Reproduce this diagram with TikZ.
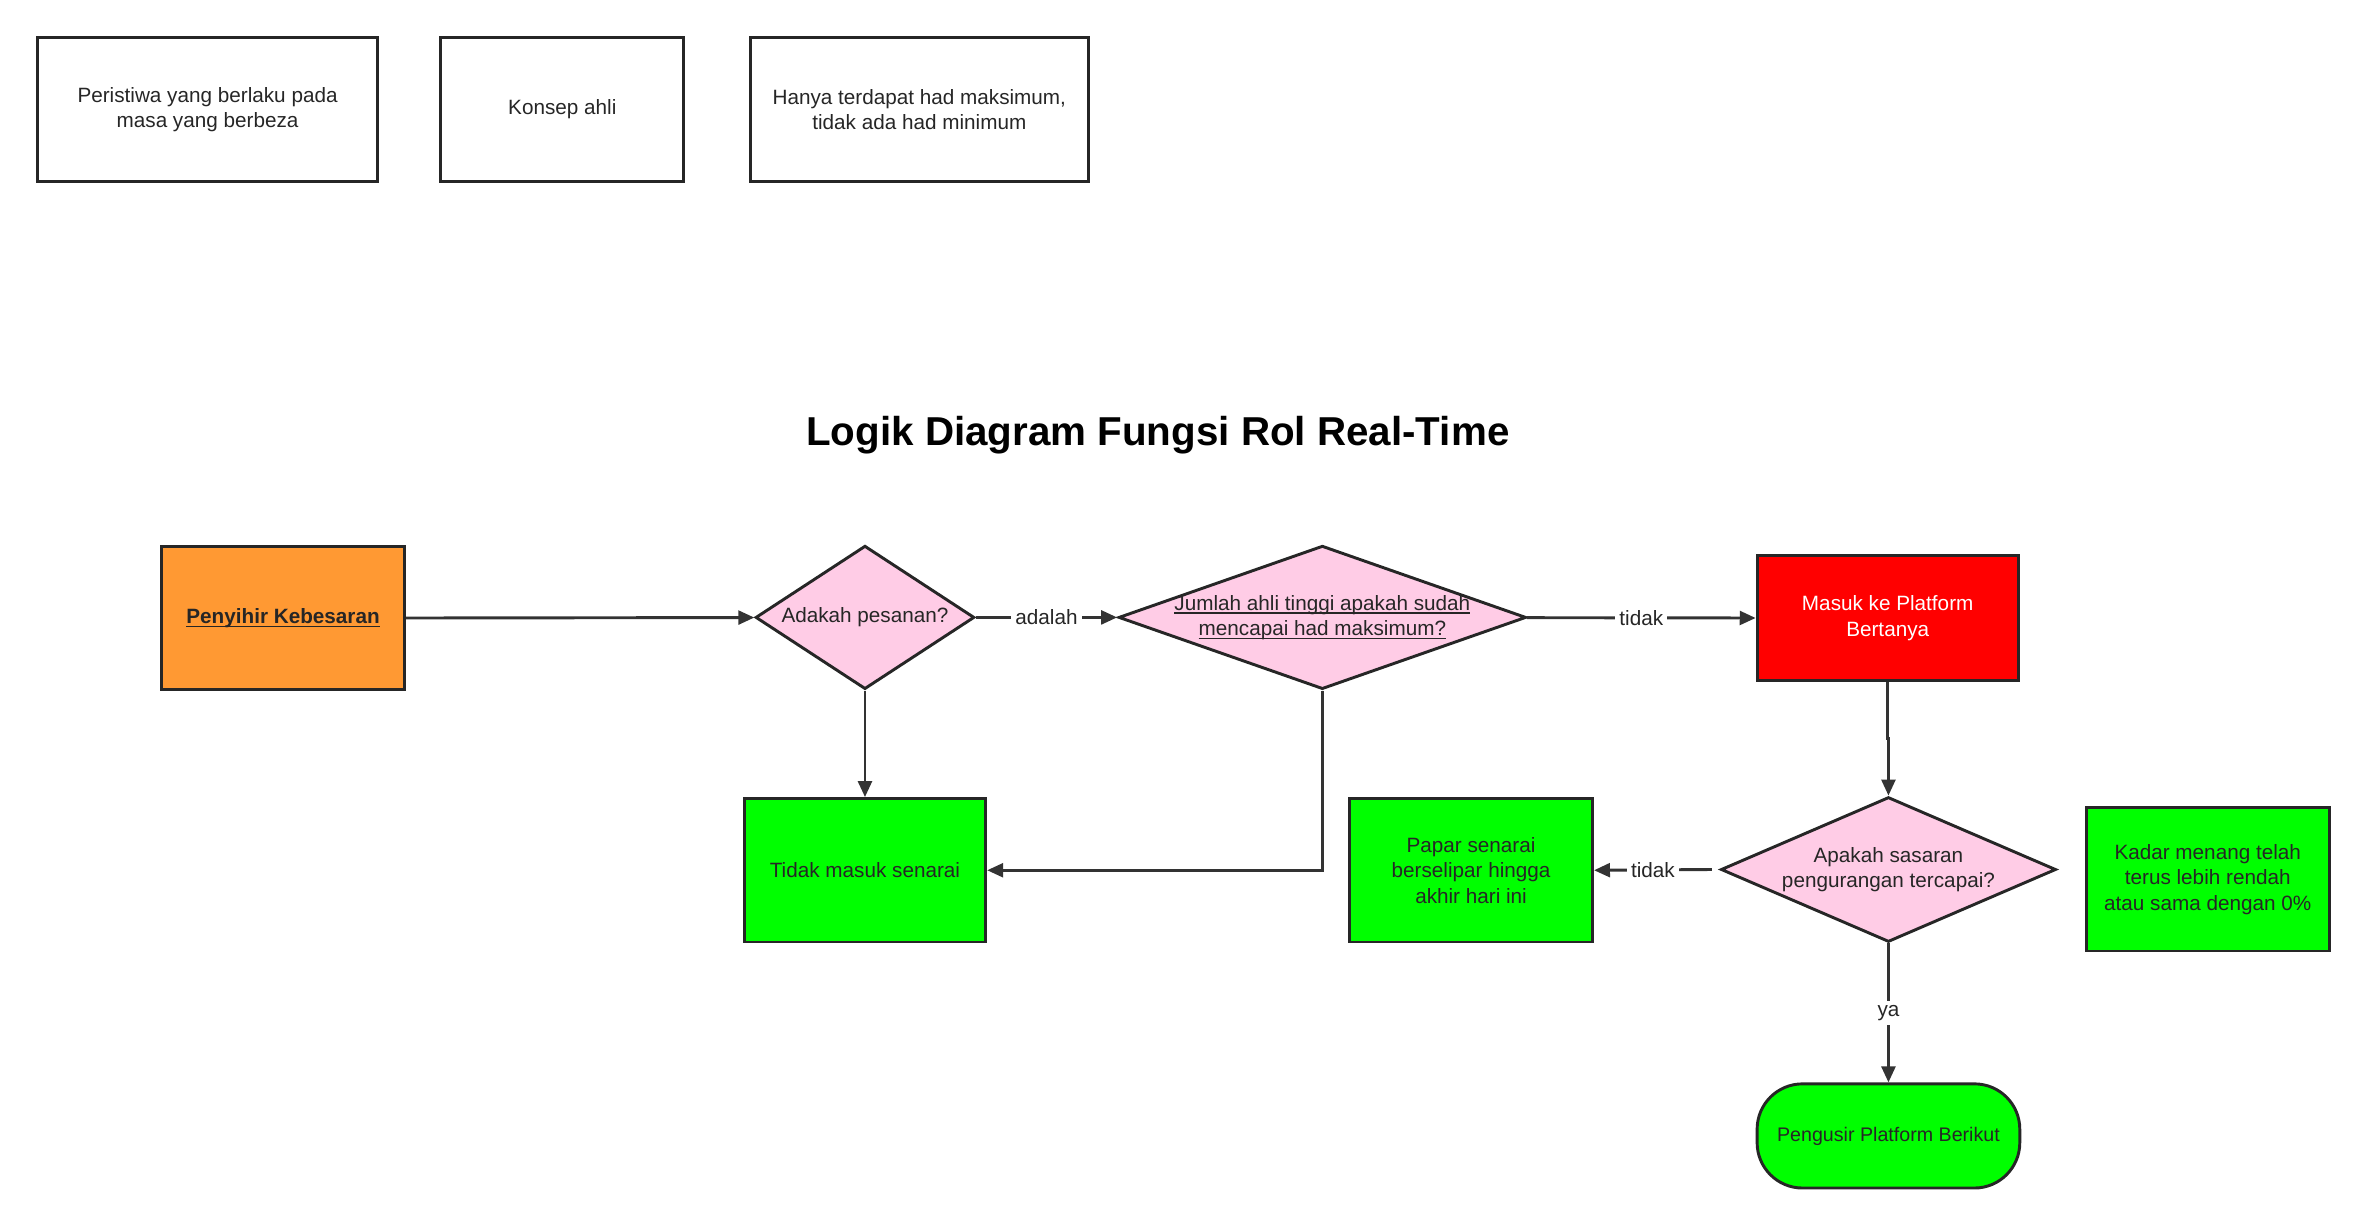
\documentclass[tikz,border=0pt]{standalone}
\usepackage{fontspec}
\setmainfont{Liberation Sans}
\usetikzlibrary{arrows.meta,positioning,shapes.geometric,calc}
\definecolor{pinkFill}{HTML}{FFCCE6}
\definecolor{orangeFill}{HTML}{FF9933}
\definecolor{lineGray}{HTML}{333333}
\newcommand\ulText[1]{\setbox0\hbox{#1}\rlap{\rule[-0.7pt]{\wd0}{0.25pt}}\box0}
\begin{document}
\begin{tikzpicture}[x=0.01cm,y=-0.01cm,
				line width=0.55pt,
				every node/.style={font=\fontsize{3.9}{4.8}\selectfont, align=center, text=black!85},
				sz/.style 2 args={minimum width=#1*0.01cm, minimum height=#2*0.01cm},
				note/.style={draw=black!85,rectangle,inner sep=0pt},
				process/.style={draw=black!85,rectangle,inner sep=0pt},
				choice/.style={draw=black!85,diamond,aspect=1.5,fill=pinkFill,inner sep=0pt},
				flow/.style={draw=lineGray,-{Triangle[length=3pt,width=2.6pt]}},
				lbl/.style={fill=white,inner sep=0.8pt}]
			\useasboundingbox (0,0) rectangle (1568,812);
			% notes at the top
			\node [note, sz={225}{95}] (n1) at (137.5,72.5) {Peristiwa yang berlaku pada\\masa yang berbeza};
			\node [note, sz={161}{95}] (n2) at (372.5,72.5) {Konsep ahli};
			\node [note, sz={224}{95}] (n3) at (609,72.5) {Hanya terdapat had maksimum,\\tidak ada had minimum};
			\node [font=\fontsize{7.6}{9}\selectfont\bfseries, text=black] (title) at (767,288) {Logik Diagram Fungsi Rol Real-Time};
			% flow
			\node [process, fill=orangeFill, sz={161}{95}, font=\fontsize{3.9}{4.8}\selectfont\bfseries] (start) at (187.5,409.5) {\ulText{Penyihir Kebesaran}};
			\node [choice, sz={145}{95}] (order) at (573,409) {Adakah pesanan?};
			\node [choice, aspect=2.84, sz={270}{95}] (limit) at (876,409) {};
			\node (limitText) at (limit) {\ulText{Jumlah ahli tinggi apakah sudah}\\\ulText{mencapai had maksimum?}};
			\node [process, fill=red, sz={173}{83}, text=white] (enter) at (1250.5,409.5) {Masuk ke Platform\\Bertanya};
			\node [process, fill=green, sz={160}{95}] (notlisted) at (573,576.5) {Tidak masuk senarai};
			\node [process, fill=green, sz={161}{95}] (show) at (974.5,576.5) {Papar senarai\\berselipar hingga\\akhir hari ini};
			\node [choice, aspect=2.31, sz={222}{96}] (target) at (1251,576) {};
			\node (targetText) at (target) {Apakah sasaran\\pengurangan tercapai?};
			\node [process, fill=green, sz={161}{95}] (rate) at (1462.5,582.5) {Kadar menang telah\\terus lebih rendah\\atau sama dengan 0\%};
			\node [draw=black!85, fill=green, rounded corners=0.3cm, sz={174}{69}, inner sep=0pt, font=\fontsize{3.7}{4.6}\selectfont] (next) at (1251,752.5) {Pengusir Platform Berikut};
			% connectors
			\draw [flow] (start) -- (order);
			\draw [flow] (order) -- node [lbl] {adalah} (limit);
			\draw [flow] (limit) -- node [lbl] {tidak} (enter);
			\draw [flow] (enter.south) |- ($(enter.south)!0.5!(target.north)$) -| (target.north);
			\draw [flow] (order.south) -- (notlisted.north);
			\draw [flow] (limit.south) |- (notlisted.east);
			\draw [flow] ([xshift=-0.05cm]target.west) -- node [lbl] {tidak} (show.east);
			\draw [flow] (target.south) -- node [lbl] {ya} (next.north);
		\end{tikzpicture}
\end{document}
